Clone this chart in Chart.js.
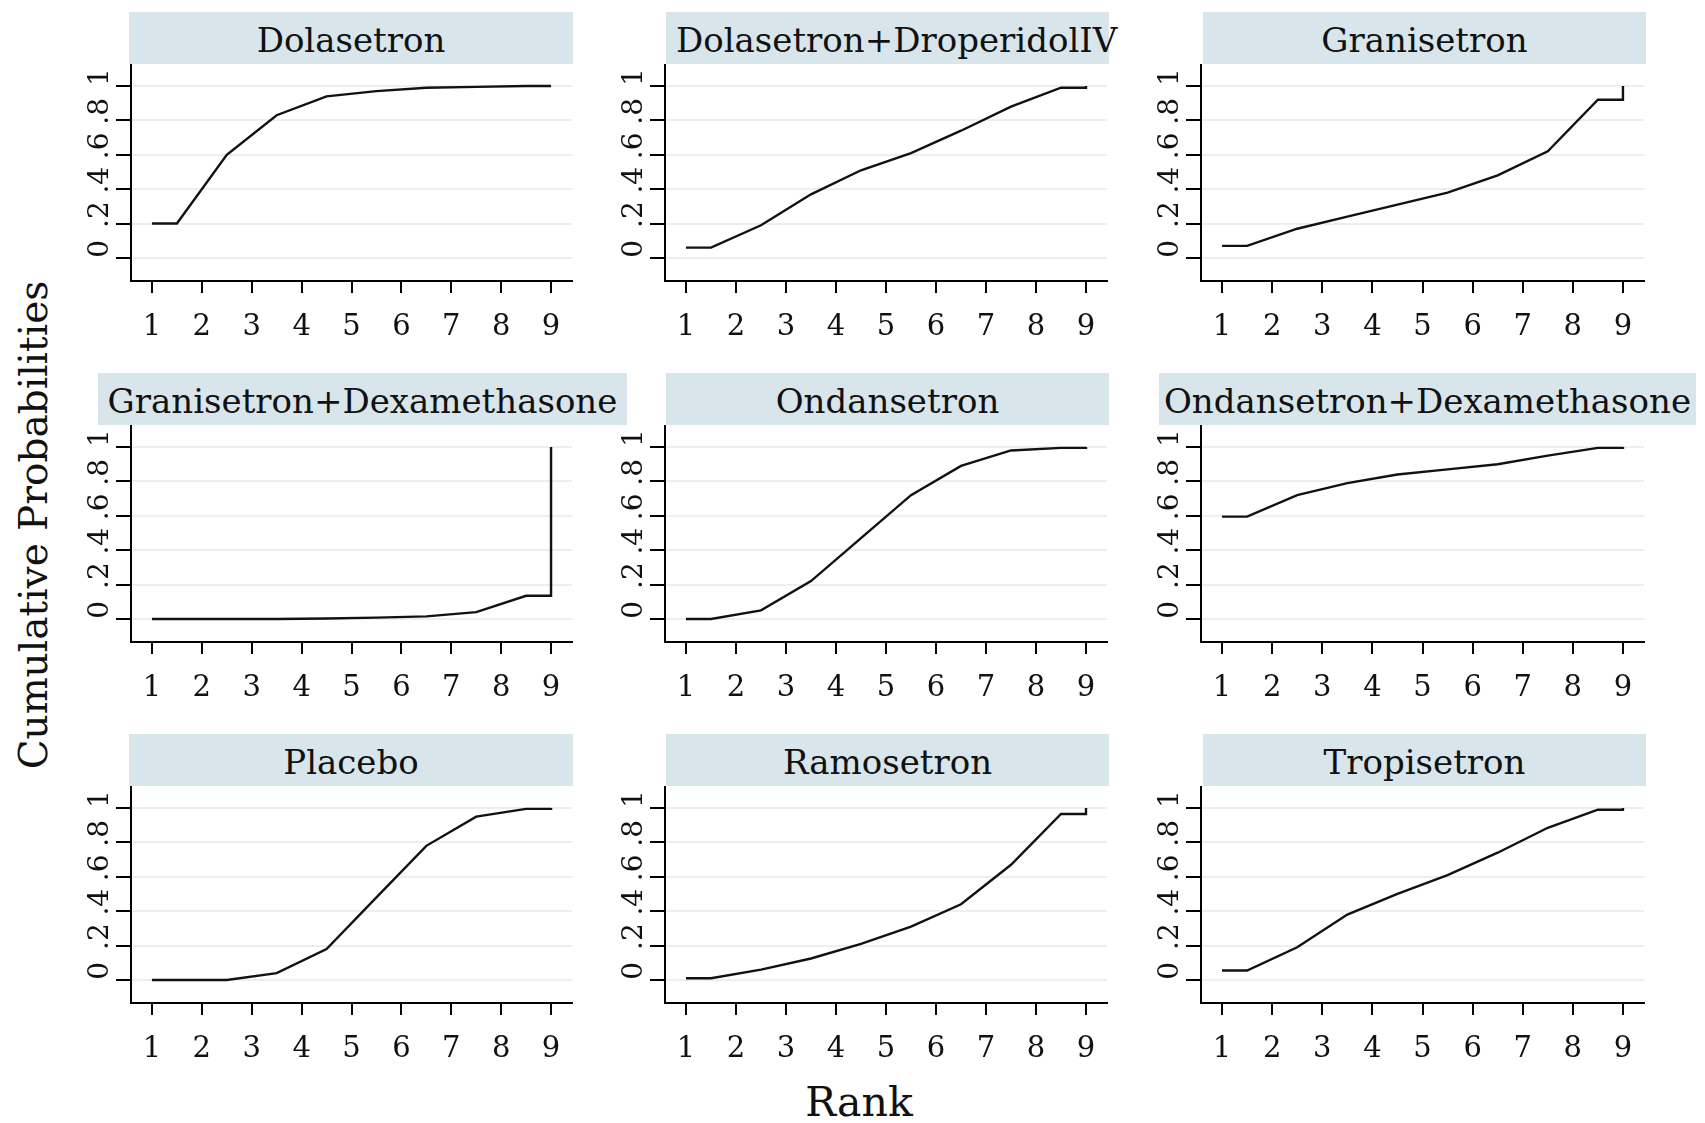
<!DOCTYPE html>
<html>
<head>
<meta charset="utf-8">
<script src="https://cdn.jsdelivr.net/npm/chart.js@4"></script>
<style>
  body { margin: 0; background: #fff; }
  #page { position: relative; width: 1705px; height: 1123px; overflow: hidden; font-family: "DejaVu Serif", serif; color: #111; }
  .panel { position: absolute; }
  .strip { position: absolute; background: #d8e5eb; height: 52px; }
  .strip span { position: absolute; top: 0; white-space: nowrap; font-size: 34px; line-height: 56px; }
  .ytitle { position: absolute; font-size: 39px; white-space: nowrap; transform: translate(-50%, -50%) rotate(-90deg); }
  .xtitle { position: absolute; font-size: 41px; white-space: nowrap; transform: translateX(-50%); }
</style>
</head>
<body>
<div id="page">
  <div class="ytitle" style="left:33px; top:525px;">Cumulative Probabilities</div>
  <div class="xtitle" style="left:859px; top:1078px;">Rank</div>
</div>
<script>
// posiciones en el eje de rangos donde la curva cambia de pendiente
const rankX = [1, 1.5, 2.5, 3.5, 4.5, 5.5, 6.5, 7.5, 8.5, 9, 9];

const treatments = [
  'Dolasetron', 'Dolasetron+DroperidolIV', 'Granisetron',
  'Granisetron+Dexamethasone', 'Ondansetron', 'Ondansetron+Dexamethasone',
  'Placebo', 'Ramosetron', 'Tropisetron'
];

// probabilidades acumuladas
const dolasetron   = [0.20, 0.20, 0.60, 0.83, 0.94, 0.97, 0.99, 0.995, 1, 1, 1];
const dolaDrop     = [0.06, 0.06, 0.19, 0.37, 0.51, 0.61, 0.74, 0.88, 0.99, 0.99, 1];
const granisetron  = [0.07, 0.07, 0.17, 0.24, 0.31, 0.38, 0.48, 0.62, 0.92, 0.92, 1];
const granDexa     = [0, 0, 0, 0, 0.003, 0.008, 0.015, 0.04, 0.135, 0.135, 1];
const ondansetron  = [0, 0, 0.05, 0.22, 0.47, 0.72, 0.89, 0.98, 0.995, 0.995, 1];
const ondaDexa     = [0.595, 0.595, 0.72, 0.79, 0.84, 0.87, 0.90, 0.95, 0.995, 0.995, 1];
const placebo      = [0, 0, 0, 0.04, 0.18, 0.48, 0.78, 0.95, 0.995, 0.995, 1];
const ramosetron   = [0.01, 0.01, 0.06, 0.125, 0.21, 0.31, 0.44, 0.67, 0.965, 0.965, 1];
const tropisetron  = [0.055, 0.055, 0.19, 0.38, 0.50, 0.61, 0.74, 0.885, 0.99, 0.99, 1];

const seriesList = [dolasetron, dolaDrop, granisetron, granDexa, ondansetron, ondaDexa, placebo, ramosetron, tropisetron];

const xTickValues = [1, 2, 3, 4, 5, 6, 7, 8, 9];
const xTickLabels = ['1', '2', '3', '4', '5', '6', '7', '8', '9'];
const yTickValues = [0, 0.2, 0.4, 0.6, 0.8, 1];
const yTickLabels = ['0', '.2', '.4', '.6', '.8', '1'];

// Disposicion de la grilla 3x3
const colLeft = [131, 665, 1201];
const colWidth = [441, 442, 443];
const rowTop = [64, 425, 786];
const plotH = 217;
const stripH = 52;
const yAxisW = 80;
const xAxisH = 70;
const padR = 10;

// franjas de titulo: [izquierda, derecha, alineacion]
const stripBox = [
  [129, 573, 'center'], [666, 1109, 'left'], [1203, 1646, 'center'],
  [98, 627, 'center'], [666, 1109, 'center'], [1159, 1696, 'center'],
  [129, 573, 'center'], [666, 1109, 'center'], [1203, 1646, 'center']
];

const fontFamily = '"DejaVu Serif", serif';

// etiquetas del eje y giradas, como en Stata
const yLabelPlugin = {
  id: 'yLabels',
  afterDraw(chart) {
    const scale = chart.scales.y;
    const ctx = chart.ctx;
    ctx.save();
    ctx.font = `28px ${fontFamily}`;
    ctx.fillStyle = '#111';
    ctx.textAlign = 'center';
    ctx.textBaseline = 'alphabetic';
    yTickValues.forEach((v, i) => {
      const y = scale.getPixelForValue(v) - 9;
      ctx.save();
      ctx.translate(chart.chartArea.left - 23, y);
      ctx.rotate(-Math.PI / 2);
      ctx.fillText(yTickLabels[i], 0, 0);
      ctx.restore();
    });
    ctx.restore();
  }
};

const page = document.getElementById('page');

treatments.forEach((name, idx) => {
  const col = idx % 3;
  const row = Math.floor(idx / 3);

  // franja con el nombre
  const box = stripBox[idx];
  const strip = document.createElement('div');
  strip.className = 'strip';
  strip.style.left = box[0] + 'px';
  strip.style.width = (box[1] - box[0]) + 'px';
  strip.style.top = (rowTop[row] - stripH) + 'px';
  const label = document.createElement('span');
  label.textContent = name;
  if (box[2] === 'left') {
    label.style.left = '10px';
  } else {
    label.style.left = '50%';
    label.style.transform = 'translateX(-50%)';
  }
  strip.appendChild(label);
  page.appendChild(strip);

  const canvas = document.createElement('canvas');
  const w = yAxisW + colWidth[col] + padR;
  const h = plotH + xAxisH;
  canvas.width = w;
  canvas.height = h;
  canvas.className = 'panel';
  canvas.style.left = (colLeft[col] - yAxisW) + 'px';
  canvas.style.top = rowTop[row] + 'px';
  canvas.style.width = w + 'px';
  canvas.style.height = h + 'px';
  page.appendChild(canvas);

  const values = seriesList[idx];
  new Chart(canvas, {
    type: 'line',
    data: {
      datasets: [{
        data: rankX.map((x, i) => ({ x: x, y: values[i] })),
        borderColor: '#111',
        borderWidth: 2.4,
        pointRadius: 0,
        tension: 0,
        fill: false
      }]
    },
    options: {
      responsive: false,
      animation: false,
      layout: { padding: { left: 0, right: padR, top: 0, bottom: 0 } },
      plugins: { legend: { display: false }, tooltip: { enabled: false } },
      scales: {
        x: {
          type: 'linear',
          min: 0.58,
          max: 9.42,
          afterBuildTicks: s => { s.ticks = xTickValues.map(v => ({ value: v })); },
          afterFit: s => { s.height = xAxisH; },
          grid: { drawOnChartArea: false, drawTicks: true, tickLength: 12, color: '#000', lineWidth: 2 },
          border: { display: true, color: '#000', width: 2 },
          ticks: {
            callback: (v, i) => xTickLabels[i],
            font: { family: fontFamily, size: 29 },
            color: '#111',
            padding: 17,
            maxRotation: 0,
            autoSkip: false
          }
        },
        y: {
          type: 'linear',
          min: -0.134,
          max: 1.128,
          afterBuildTicks: s => { s.ticks = yTickValues.map(v => ({ value: v })); },
          afterFit: s => { s.width = yAxisW; },
          grid: { color: '#e8f0f2', lineWidth: 2, tickColor: '#000', tickWidth: 2, tickLength: 15 },
          border: { display: true, color: '#000', width: 2 },
          ticks: { display: false }
        }
      }
    },
    plugins: [yLabelPlugin]
  });
});
</script>
</body>
</html>
